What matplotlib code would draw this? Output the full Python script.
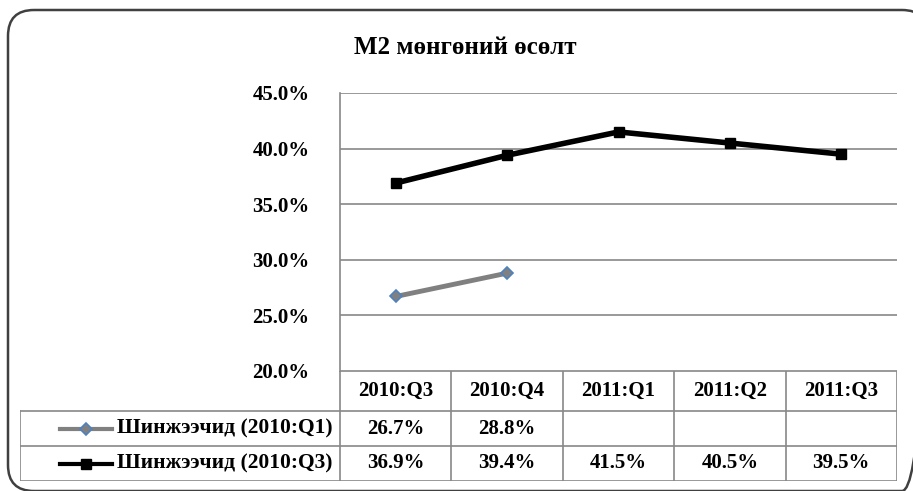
import matplotlib
matplotlib.use("Agg")
import matplotlib.pyplot as plt
from matplotlib.patches import FancyBboxPatch
import numpy as np

# Data
title = "M2 мөнгөний өсөлт"
quarters = ["2010:Q3", "2010:Q4", "2011:Q1", "2011:Q2", "2011:Q3"]
series_names = ["Шинжээчид (2010:Q1)", "Шинжээчид (2010:Q3)"]
q1_values = [26.7, 28.8, None, None, None]
q3_values = [36.9, 39.4, 41.5, 40.5, 39.5]
yticks = [20.0, 25.0, 30.0, 35.0, 40.0, 45.0]

W, H = 913, 491
font = "Liberation Serif"
grid_color = "#888888"

fig = plt.figure(figsize=(W / 100, H / 100), dpi=100)
fig.patch.set_facecolor("white")

# rounded outer frame, drawn in pixel units on an overlay axes
bg = fig.add_axes([0, 0, 1, 1])
bg.set_xlim(0, W)
bg.set_ylim(H, 0)
bg.axis("off")
bg.add_patch(FancyBboxPatch((8, 10), 920, 481,
                            boxstyle="round,pad=0,rounding_size=26",
                            facecolor="none", edgecolor="#404040", linewidth=1.8))

fig.text(465 / W, 1 - 47 / H, title, ha="center", va="center",
         fontsize=18, fontweight="bold", family=font)

# plot area
x0, x1 = 340, 897
ytop, ybot = 93, 371
ax = fig.add_axes([x0 / W, 1 - ybot / H, (x1 - x0) / W, (ybot - ytop) / H])
xs = np.arange(len(quarters)) + 0.5
q1_x = [x for x, v in zip(xs, q1_values) if v is not None]
q1_y = [v for v in q1_values if v is not None]
ax.plot(q1_x, q1_y, color="#808080", linewidth=3.5, marker="D", markersize=6,
        markerfacecolor="#808080", markeredgecolor="#4F81BD", markeredgewidth=1.2, zorder=3)
ax.plot(xs, q3_values, color="black", linewidth=4, marker="s", markersize=7, zorder=3)
ax.set_xlim(0, len(quarters))
ax.set_ylim(20, 45)
ax.set_yticks(yticks)
ax.set_yticklabels([f"{v:.1f}%" for v in yticks])
ax.set_xticks([])
for t in ax.get_yticklabels():
    t.set_family(font)
    t.set_fontweight("bold")
    t.set_fontsize(15)
ax.tick_params(axis="y", length=0, pad=22)
ax.grid(axis="y", color=grid_color, linewidth=1.2)
ax.set_axisbelow(True)
for s in ["top", "right", "bottom"]:
    ax.spines[s].set_visible(False)
ax.spines["left"].set_color(grid_color)
ax.spines["left"].set_linewidth(1.2)

# data table
label_w = (x0 - 20) / ((x1 - x0) / len(quarters))
tb_top, tb_bot = 371, 481
tax = fig.add_axes([20 / W, 1 - tb_bot / H, (x1 - 20) / W, (tb_bot - tb_top) / H])
tax.set_xlim(-label_w, len(quarters))
row_edges = [0, 40, 75, 110]
tax.set_ylim(row_edges[-1], 0)
tax.axis("off")
lw = 1.2
# horizontal lines
tax.plot([0, len(quarters)], [0, 0], color=grid_color, lw=lw)
for r in row_edges[1:]:
    tax.plot([-label_w, len(quarters)], [r, r], color=grid_color, lw=lw)
# vertical lines
for c in range(len(quarters) + 1):
    tax.plot([c, c], [0, row_edges[-1]], color=grid_color, lw=lw)
tax.plot([-label_w, -label_w], [row_edges[1], row_edges[-1]], color=grid_color, lw=lw)

txt = dict(ha="center", va="center", fontsize=15, fontweight="bold", family=font)
for i, q in enumerate(quarters):
    tax.text(i + 0.5, (row_edges[0] + row_edges[1]) / 2, q, **txt)
rows = [q1_values, q3_values]
for r, vals in enumerate(rows):
    yc = (row_edges[r + 1] + row_edges[r + 2]) / 2
    for i, v in enumerate(vals):
        if v is not None:
            tax.text(i + 0.5, yc, f"{v:.1f}%", **txt)

# legend keys inside label column
key_styles = [
    dict(color="#808080", lw=3, marker="D", ms=6, mfc="#808080", mec="#4F81BD", mew=1.2),
    dict(color="black", lw=3, marker="s", ms=6.5),
]
px = (len(quarters) + label_w) / (x1 - 20)
for r, name in enumerate(series_names):
    yc = (row_edges[r + 1] + row_edges[r + 2]) / 2
    kx0 = -label_w + (60 - 20) * px
    kx1 = -label_w + (112 - 20) * px
    tax.plot([kx0, kx1], [yc, yc], **{k: v for k, v in key_styles[r].items() if k not in ("marker", "ms", "mfc", "mec", "mew")})
    tax.plot([(kx0 + kx1) / 2], [yc], linestyle="none",
             **{k: v for k, v in key_styles[r].items() if k not in ("lw",)})
    tax.text(-label_w + (117 - 20) * px, yc, name, ha="left", va="center",
             fontsize=15.5, fontweight="bold", family=font)

fig.savefig("out.png", dpi=100)
